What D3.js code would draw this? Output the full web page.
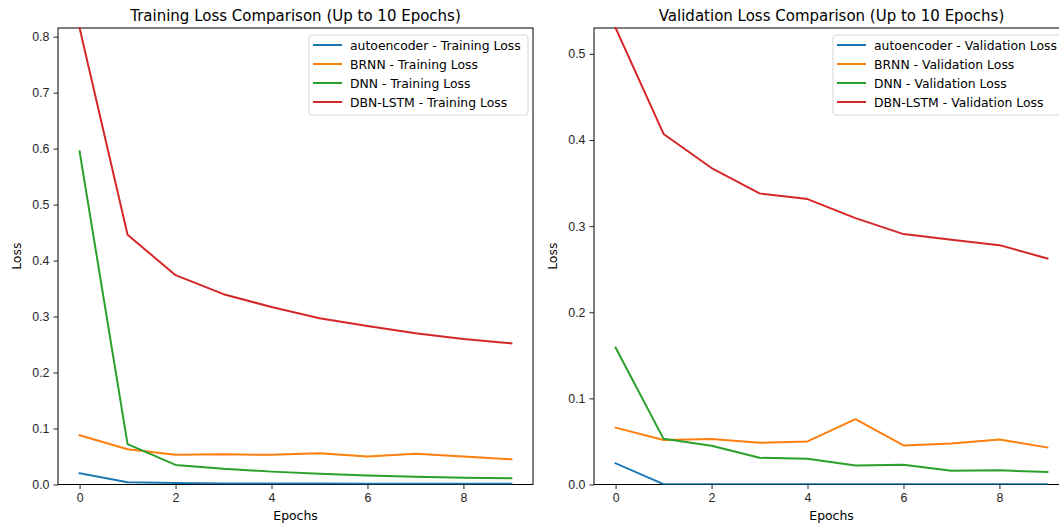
<!DOCTYPE html>
<html lang="en">
<head>
<meta charset="utf-8">
<script src="https://cdn.jsdelivr.net/npm/d3@7"></script>
<style>
  body { margin: 0; background: #fff; }
  svg { display: block; font-family: "DejaVu Sans", sans-serif; }
  .tick text { font-size: 12.4px; fill: #262626; }
</style>
</head>
<body>
<div id="chart"></div>
<script>
// epochs and series values
var epochs = [0, 1, 2, 3, 4, 5, 6, 7, 8, 9];
var models = ["autoencoder", "BRNN", "DNN", "DBN-LSTM"];
var colors = ["#1f77b4", "#ff7f0e", "#2ca02c", "#d62728"];

var trainAutoencoder = [0.020, 0.004, 0.0025, 0.002, 0.0018, 0.0016, 0.0015, 0.0014, 0.0013, 0.0012];
var trainBRNN        = [0.088, 0.063, 0.053, 0.054, 0.053, 0.056, 0.050, 0.055, 0.050, 0.045];
var trainDNN         = [0.595, 0.072, 0.035, 0.028, 0.023, 0.019, 0.016, 0.014, 0.012, 0.011];
var trainDBNLSTM     = [0.8155, 0.446, 0.374, 0.340, 0.317, 0.297, 0.283, 0.270, 0.260, 0.252];

var valAutoencoder = [0.0246, 0.0004, 0.0003, 0.0003, 0.0003, 0.0003, 0.0003, 0.0003, 0.0003, 0.0003];
var valBRNN        = [0.066, 0.0516, 0.0527, 0.0484, 0.050, 0.0758, 0.0453, 0.0477, 0.0523, 0.043];
var valDNN         = [0.159, 0.053, 0.045, 0.031, 0.030, 0.022, 0.023, 0.016, 0.0164, 0.0145];
var valDBNLSTM     = [0.530, 0.407, 0.3674, 0.338, 0.3314, 0.3093, 0.2907, 0.2841, 0.2779, 0.2624];

var trainTicks = [0.0, 0.1, 0.2, 0.3, 0.4, 0.5, 0.6, 0.7, 0.8];
var valTicks = [0.0, 0.1, 0.2, 0.3, 0.4, 0.5];
var xTicks = [0, 2, 4, 6, 8];

var W = 1059, H = 523;
var svg = d3.select("#chart").append("svg")
  .attr("width", W).attr("height", H);

function drawPanel(opts) {
  var left = opts.left, right = opts.right, top = 28, bottom = 484.5;
  var x = d3.scaleLinear().domain([-0.45, 9.45]).range([left, right]);
  var y = d3.scaleLinear().domain([0, opts.ymax]).range([bottom, top]);
  var g = svg.append("g");

  var clipId = "clip-" + opts.id;
  g.append("clipPath").attr("id", clipId)
    .append("rect").attr("x", left).attr("y", top - 1)
    .attr("width", right - left).attr("height", bottom - top + 1);

  // frame first, lines go on top of it
  g.append("rect")
    .attr("x", left).attr("y", top)
    .attr("width", right - left).attr("height", bottom - top)
    .attr("fill", "none").attr("stroke", "#000").attr("stroke-width", 1);

  // lines
  var line = d3.line()
    .x(function(d, i) { return x(epochs[i]); })
    .y(function(d) { return y(d); });
  var lines = g.append("g").attr("clip-path", "url(#" + clipId + ")");
  opts.series.forEach(function(s, i) {
    lines.append("path")
      .attr("d", line(s))
      .attr("fill", "none")
      .attr("stroke", colors[i])
      .attr("stroke-width", 2)
      .attr("stroke-linejoin", "round")
      .attr("stroke-linecap", "square");
  });

  // axes
  var xAxis = g.append("g")
    .attr("transform", "translate(0," + bottom + ")")
    .call(d3.axisBottom(x).tickValues(xTicks).tickSize(4.5).tickPadding(4).tickFormat(d3.format("d")));
  var yAxis = g.append("g")
    .attr("transform", "translate(" + left + ",0)")
    .call(d3.axisLeft(y).tickValues(opts.ticks).tickSize(4.5).tickPadding(4).tickFormat(d3.format(".1f")));
  [xAxis, yAxis].forEach(function(a) {
    a.select(".domain").remove();
    a.selectAll(".tick line").attr("stroke", "#262626").attr("stroke-width", 1);
  });

  // title + labels
  g.append("text")
    .attr("x", (left + right) / 2).attr("y", 21)
    .attr("text-anchor", "middle")
    .style("font-size", "15px").attr("fill", "#000")
    .text(opts.title);
  g.append("text")
    .attr("x", (left + right) / 2).attr("y", 520)
    .attr("text-anchor", "middle")
    .style("font-size", "12.4px").attr("fill", "#000")
    .text("Epochs");
  g.append("text")
    .attr("transform", "translate(" + (left - 37) + "," + ((top + bottom) / 2) + ") rotate(-90)")
    .attr("text-anchor", "middle")
    .style("font-size", "12.4px").attr("fill", "#000")
    .text("Loss");

  // legend
  var lg = g.append("g").attr("transform", "translate(" + opts.legendX + ",35)");
  lg.append("rect")
    .attr("width", opts.legendW).attr("height", 80)
    .attr("rx", 3).attr("ry", 3)
    .attr("fill", "rgba(255,255,255,0.8)")
    .attr("stroke", "#d6d6d6").attr("stroke-width", 1);
  models.forEach(function(m, i) {
    var ry = 10 + i * 19;
    lg.append("line")
      .attr("x1", 4).attr("x2", 33)
      .attr("y1", ry).attr("y2", ry)
      .attr("stroke", colors[i]).attr("stroke-width", 2);
    lg.append("text")
      .attr("x", 41).attr("y", ry + 4.5)
      .style("font-size", "12.4px").attr("fill", "#000")
      .text(m + " - " + opts.kind);
  });
}

drawPanel({
  id: "train", left: 58, right: 533, ymax: 0.8155, ticks: trainTicks,
  title: "Training Loss Comparison (Up to 10 Epochs)", kind: "Training Loss",
  series: [trainAutoencoder, trainBRNN, trainDNN, trainDBNLSTM],
  legendX: 309, legendW: 219
});
drawPanel({
  id: "val", left: 594, right: 1069, ymax: 0.530, ticks: valTicks,
  title: "Validation Loss Comparison (Up to 10 Epochs)", kind: "Validation Loss",
  series: [valAutoencoder, valBRNN, valDNN, valDBNLSTM],
  legendX: 833, legendW: 229
});
</script>
</body>
</html>
